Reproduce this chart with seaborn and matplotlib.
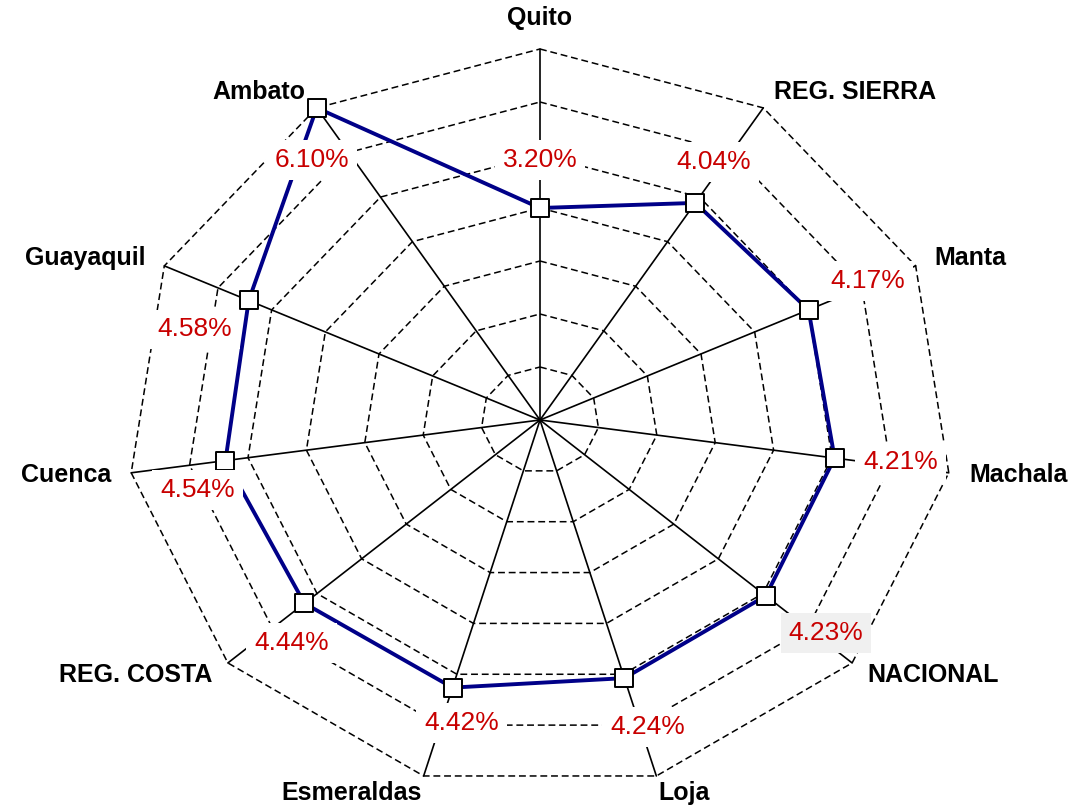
import numpy as np
import pandas as pd
import seaborn as sns
import matplotlib.pyplot as plt

# values (percent)
ciudades = ["Quito", "REG. SIERRA", "Manta", "Machala", "NACIONAL", "Loja",
            "Esmeraldas", "REG. COSTA", "Cuenca", "Guayaquil", "Ambato"]
valores = [3.20, 4.04, 4.17, 4.21, 4.23, 4.24, 4.42, 4.44, 4.54, 4.58, 6.10]
etiquetas = [f"{v:.2f}%" for v in valores]

# label offsets from each marker, in pixels (right, down)
offsets_px = [(0, -48), (18, -41), (59, -29), (66, 4), (60, 37), (23, 49),
              (9, 35), (-13, 40), (-28, 29), (-54, 29), (-5, 52)]

# radial axis (7 dashed rings, value at centre is below zero)
R_MIN, R_MAX, N_RINGS = -0.667, 6.10, 7

W, H = 1079, 808
CX, CY = 540, 420       # centre in pixels
RX, RY = 413, 371       # outer ring radius (chart is stretched horizontally)

sns.set_style("white")
plt.rcParams["font.family"] = ["Liberation Sans", "DejaVu Sans"]

n = len(ciudades)
theta = np.arange(n) * 2 * np.pi / n


def to_xy(v, t):
    rho = (np.asarray(v) - R_MIN) / (R_MAX - R_MIN)
    return rho * np.sin(t), rho * np.cos(t)


fig = plt.figure(figsize=(W / 100, H / 100), dpi=100)
ax = fig.add_axes([0, 0, 1, 1])
ax.set_xlim(-CX / RX, (W - CX) / RX)
ax.set_ylim(-(H - CY) / RY, CY / RY)
ax.axis("off")

# dashed polygon rings
tt = np.append(theta, theta[0])
for lvl in np.linspace(R_MIN, R_MAX, N_RINGS + 1)[1:]:
    gx, gy = to_xy(np.full(len(tt), lvl), tt)
    ax.plot(gx, gy, color="black", lw=1.1, ls=(0, (4.5, 2.5)), zorder=1)

# spokes
for t in theta:
    sx, sy = to_xy([R_MIN, R_MAX], np.array([t, t]))
    ax.plot(sx, sy, color="black", lw=1.2, zorder=2)

# data polygon
px, py = to_xy(valores, theta)
df = pd.DataFrame({"x": np.append(px, px[0]), "y": np.append(py, py[0])})
sns.lineplot(data=df, x="x", y="y", sort=False, estimator=None,
             color="#000088", lw=2.8, ax=ax, zorder=3)
sns.scatterplot(x=px, y=py, marker="s", s=160, color="white",
                edgecolor="black", linewidth=1.4, ax=ax, zorder=4)

# value labels
for i, (x, y) in enumerate(zip(px, py)):
    dx, dy = offsets_px[i]
    fc = "#F0F0F0" if ciudades[i] == "NACIONAL" else "white"
    ax.annotate(etiquetas[i], (x, y), xytext=(dx * 0.72, -dy * 0.72),
                textcoords="offset points", ha="center", va="center",
                fontsize=19, color="#C80000", zorder=6,
                bbox=dict(boxstyle="square,pad=0.3", fc=fc, ec="none"))

# category labels
for name, t in zip(ciudades, theta):
    s, c = np.sin(t), np.cos(t)
    ha = "center" if abs(s) < 0.01 else ("left" if s > 0 else "right")
    gap = 0.05
    if c > 0.9:
        va = "bottom"
    elif c < -0.9:
        va = "top"
        gap = 0.015
    else:
        va = "center"
    lx, ly = to_xy(R_MAX + gap * (R_MAX - R_MIN), t)
    ax.text(lx, ly, name, ha=ha, va=va, fontsize=18, fontweight="bold",
            color="black", zorder=5)

fig.savefig("out.png", dpi=100)
